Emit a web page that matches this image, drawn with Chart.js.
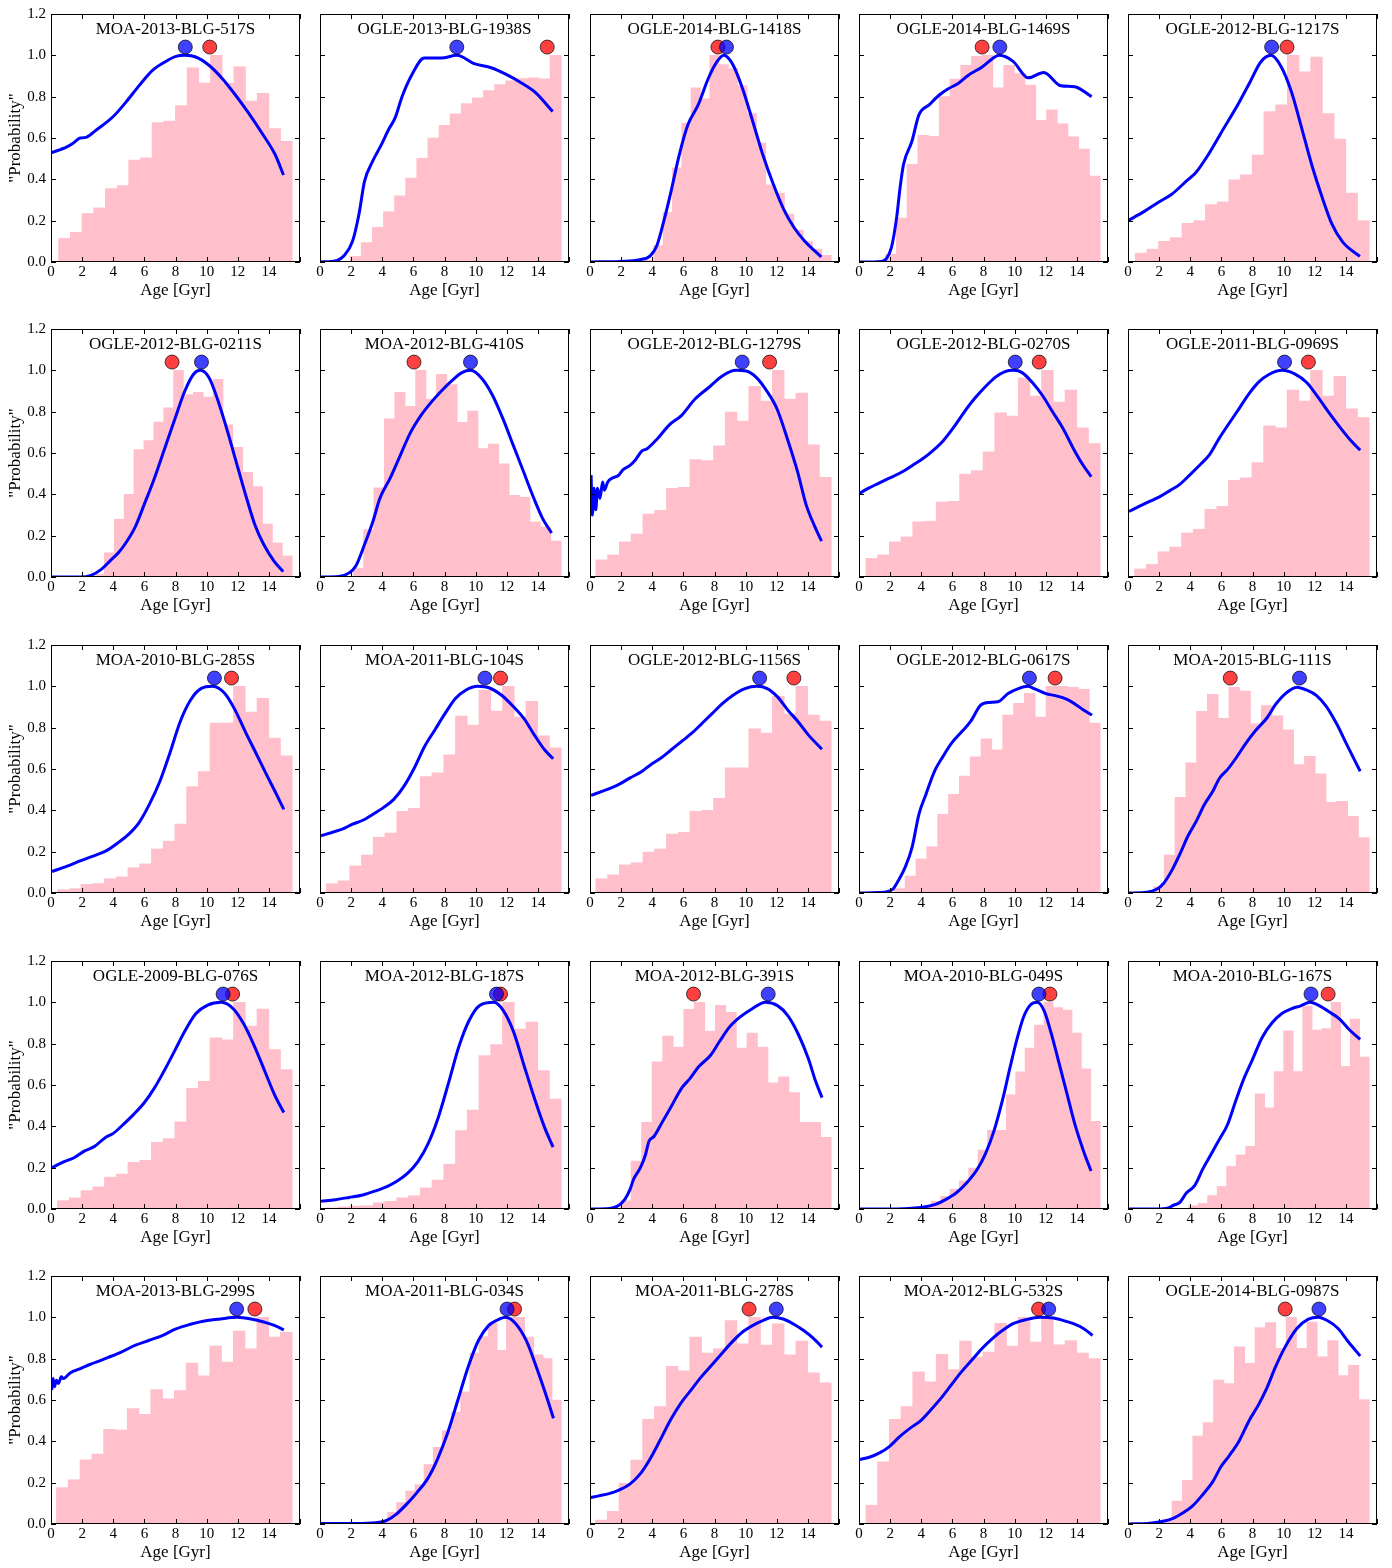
<!DOCTYPE html>
<html><head><meta charset="utf-8">
<script src="https://cdn.jsdelivr.net/npm/chart.js@4.4.1/dist/chart.umd.min.js"></script>
<style>
html,body{margin:0;padding:0;background:#fff;}
body{width:1392px;height:1568px;position:relative;overflow:hidden;}
.p{position:absolute;}
</style></head><body>
<script>
// ---------------- DATA ----------------
const names = [
 "MOA-2013-BLG-517S","OGLE-2013-BLG-1938S","OGLE-2014-BLG-1418S","OGLE-2014-BLG-1469S","OGLE-2012-BLG-1217S",
 "OGLE-2012-BLG-0211S","MOA-2012-BLG-410S","OGLE-2012-BLG-1279S","OGLE-2012-BLG-0270S","OGLE-2011-BLG-0969S",
 "MOA-2010-BLG-285S","MOA-2011-BLG-104S","OGLE-2012-BLG-1156S","OGLE-2012-BLG-0617S","MOA-2015-BLG-111S",
 "OGLE-2009-BLG-076S","MOA-2012-BLG-187S","MOA-2012-BLG-391S","MOA-2010-BLG-049S","MOA-2010-BLG-167S",
 "MOA-2013-BLG-299S","MOA-2011-BLG-034S","MOA-2011-BLG-278S","MOA-2012-BLG-532S","OGLE-2014-BLG-0987S"
];
// histogram lower edge (Gyr); all histograms end at binEnd
const binStart = [0.49,1.22,3.49,1.71,0.46, 2.79,2.13,0.37,0.44,0.42, 0.42,0.40,0.37,1.57,1.63, 0.42,0.40,1.96,3.43,3.28, 0.35,3.75,0.35,0.44,2.16];
const binEnd = 15.5;
const hist = [
 [0.114,0.144,0.235,0.262,0.355,0.37,0.493,0.504,0.675,0.682,0.757,0.939,0.866,1.0,0.864,0.944,0.779,0.816,0.646,0.584],
 [0,0.027,0.094,0.168,0.243,0.32,0.406,0.502,0.6,0.661,0.717,0.766,0.794,0.829,0.858,0.877,0.888,0.891,0.886,1.0],
 [0.01,0.08,0.24,0.456,0.672,0.843,0.789,1.0,0.955,0.936,0.853,0.718,0.576,0.373,0.333,0.232,0.155,0.099,0.062,0.032],
 [0.037,0.213,0.472,0.613,0.608,0.80,0.885,0.952,0.995,1.0,0.843,0.952,0.912,0.856,0.685,0.736,0.669,0.606,0.546,0.416],
 [0.043,0.062,0.10,0.118,0.187,0.2,0.278,0.291,0.397,0.422,0.517,0.728,0.76,1.0,0.92,0.992,0.718,0.595,0.334,0.2],
 [0.013,0.117,0.28,0.4,0.617,0.66,0.75,0.818,1.0,0.883,0.894,0.87,0.957,0.736,0.627,0.506,0.438,0.256,0.165,0.102],
 [0.042,0.229,0.432,0.765,0.893,0.826,1.0,0.861,0.981,0.931,0.749,0.803,0.621,0.643,0.547,0.395,0.386,0.266,0.242,0.174],
 [0.083,0.107,0.17,0.208,0.304,0.323,0.429,0.434,0.568,0.563,0.635,0.798,0.755,0.923,0.851,1.0,0.861,0.89,0.64,0.482],
 [0.09,0.107,0.17,0.194,0.267,0.27,0.362,0.366,0.498,0.515,0.606,0.794,0.779,0.963,0.875,1.0,0.846,0.904,0.722,0.645],
 [0.039,0.061,0.122,0.145,0.213,0.231,0.328,0.342,0.468,0.48,0.554,0.731,0.722,0.905,0.851,1.0,0.876,0.971,0.814,0.771],
 [0.016,0.021,0.042,0.046,0.069,0.078,0.122,0.141,0.213,0.251,0.333,0.515,0.587,0.822,0.822,1.0,0.875,0.942,0.75,0.664],
 [0.045,0.059,0.131,0.184,0.27,0.29,0.395,0.41,0.563,0.582,0.669,0.856,0.813,0.981,0.88,1.0,0.851,0.928,0.76,0.702],
 [0.069,0.088,0.136,0.146,0.198,0.213,0.285,0.294,0.395,0.40,0.458,0.606,0.606,0.794,0.774,0.952,0.866,1.0,0.861,0.832],
 [0,0.021,0.082,0.165,0.224,0.381,0.477,0.566,0.659,0.746,0.693,0.861,0.918,0.966,0.851,1.0,1.0,0.995,0.986,0.822],
 [0.03,0.184,0.463,0.63,0.879,0.961,0.845,0.995,0.977,0.818,0.907,0.857,0.789,0.621,0.661,0.577,0.439,0.443,0.371,0.268],
 [0.04,0.054,0.089,0.107,0.154,0.169,0.226,0.236,0.322,0.341,0.422,0.584,0.618,0.828,0.818,1.0,0.885,0.967,0.771,0.675],
 [0.005,0.01,0.014,0.016,0.03,0.037,0.054,0.064,0.102,0.14,0.217,0.379,0.479,0.742,0.795,1.0,0.871,0.904,0.67,0.532],
 [0.04,0.232,0.419,0.712,0.837,0.784,0.966,1.0,0.861,0.986,0.952,0.779,0.851,0.784,0.611,0.64,0.563,0.419,0.419,0.347],
 [0,0.008,0.037,0.061,0.096,0.136,0.198,0.285,0.381,0.381,0.552,0.664,0.779,0.89,1.0,0.975,0.962,0.851,0.678,0.424],
 [0,0.016,0.027,0.065,0.109,0.206,0.262,0.303,0.557,0.489,0.665,0.862,0.665,0.982,0.866,0.873,1.0,0.69,0.919,0.735],
 [0.176,0.214,0.31,0.338,0.458,0.454,0.558,0.531,0.65,0.606,0.645,0.779,0.717,0.861,0.784,0.933,0.848,1.0,0.904,0.928],
 [0.011,0.056,0.104,0.16,0.19,0.288,0.371,0.451,0.541,0.64,0.827,0.907,0.971,0.84,1.0,1.0,0.904,0.819,0.8,0.6],
 [0.019,0.061,0.197,0.309,0.507,0.568,0.763,0.741,0.904,0.827,0.848,0.984,0.872,1.0,0.866,0.968,0.818,0.885,0.731,0.683],
 [0.091,0.301,0.507,0.568,0.736,0.688,0.821,0.747,0.885,0.808,0.832,0.971,0.861,1.0,0.88,1.0,0.867,0.888,0.827,0.8],
 [0.021,0.111,0.211,0.425,0.491,0.696,0.679,0.857,0.777,0.95,0.975,0.85,1.0,0.85,0.977,0.809,0.888,0.718,0.768,0.602]
];
const curveAge = [
 [0,1.02,1.44,1.87,2.25,2.93,4.0,4.84,5.69,6.54,7.39,8.03,8.63,9.3,10.15,11.0,11.85,12.7,13.55,14.4,14.94],
 [0,1.1,1.54,2.09,2.5,2.86,3.4,3.96,4.4,4.84,5.27,5.93,6.7,7.8,8.8,9.9,11.0,11.9,13.0,13.85,14.95],
 [0,1.9,3.2,3.87,4.3,4.75,5.19,5.74,6.29,6.95,7.6,8.15,8.6,9.14,9.8,10.46,11.1,11.78,12.44,13.1,13.76,14.86],
 [0,1.43,1.76,2.09,2.42,2.64,2.86,3.4,3.85,4.5,5.16,5.71,6.37,7.03,7.91,8.57,9.0,9.9,10.88,11.87,12.97,13.85,14.95],
 [0,1.05,1.93,2.81,3.8,4.35,5.23,6.1,6.99,7.87,8.53,9.19,9.85,10.5,11.16,11.8,12.48,13.1,13.8,14.9],
 [0,1.9,2.57,3.23,3.78,4.33,4.88,5.43,5.98,6.64,7.3,7.96,8.6,9.16,9.6,10.15,10.7,11.36,12.02,12.57,13.1,13.67,14.33,14.92],
 [0,1.2,1.87,2.3,2.86,3.4,3.85,4.5,5.16,5.82,6.48,7.14,7.8,8.46,9.12,9.67,10.44,11.1,11.76,12.42,13.08,13.74,14.29,14.88],
 [0.07,0.15,0.26,0.37,0.48,0.64,0.81,0.92,1.14,1.47,1.8,2.13,2.57,2.9,3.34,3.67,4.33,5.1,5.87,6.75,7.63,8.5,9.38,10.04,10.7,11.36,12.02,12.68,13.34,13.89,14.44,14.88],
 [0.04,0.59,1.25,1.91,2.79,3.45,4.11,4.77,5.43,6.09,6.75,7.4,8.07,8.73,9.38,9.93,10.48,11.14,11.8,12.46,13.12,13.78,14.33,14.92],
 [0.06,0.78,1.42,2.05,2.69,3.33,3.96,4.6,5.23,5.87,6.5,7.14,7.78,8.41,9.05,9.9,10.74,11.48,12.22,12.97,13.7,14.39,14.92],
 [0.07,1.04,1.92,2.8,3.57,4.34,5.0,5.66,6.32,7.0,7.64,8.3,8.96,9.63,10.4,11.17,11.83,12.49,13.15,13.8,14.47,14.96],
 [0.07,0.77,1.43,2.09,2.75,3.41,4.07,4.74,5.4,6.06,6.72,7.38,8.04,8.7,9.36,10.13,10.9,11.67,12.44,13.1,13.77,14.43,14.98],
 [0.07,0.81,1.48,1.92,2.58,3.35,3.9,4.56,5.22,5.88,6.54,7.2,7.86,8.52,9.19,9.96,10.73,11.39,12.05,12.71,13.37,14.03,14.9],
 [0,1.21,1.87,2.2,2.53,2.97,3.41,3.85,4.3,4.85,5.4,5.95,6.61,7.16,7.82,8.37,8.92,9.58,10.24,10.86,11.34,12.0,12.67,13.33,13.99,14.43,14.98],
 [0,1.2,1.84,2.27,2.8,3.33,3.86,4.39,4.92,5.44,5.87,6.4,6.93,7.56,8.2,8.94,9.47,10.1,10.85,11.48,12.12,12.75,13.39,14.03,14.92],
 [0.07,0.81,1.48,2.14,2.8,3.46,4.0,4.67,5.33,5.99,6.65,7.31,7.97,8.63,9.3,10.07,10.95,11.72,12.38,13.04,13.7,14.36,14.96],
 [0.07,0.99,1.87,2.75,3.63,4.3,4.96,5.62,6.28,6.94,7.6,8.26,8.92,9.58,10.24,11.17,11.78,12.44,13.1,13.77,14.43,14.98],
 [0,1.26,1.81,2.25,2.58,2.8,3.24,3.57,3.79,4.12,4.67,5.22,5.88,6.43,6.98,7.75,8.3,8.96,9.63,10.4,11.28,12.05,12.71,13.37,14.03,14.47,14.91],
 [0,1.87,3.19,4.07,4.96,5.62,6.28,6.94,7.6,8.15,8.7,9.25,9.69,10.13,10.57,11.01,11.45,11.89,12.33,12.78,13.33,13.88,14.43,14.91],
 [0,1.84,2.58,2.9,3.33,3.75,4.28,4.81,5.34,5.87,6.4,6.93,7.46,7.99,8.62,9.26,9.89,10.53,11.06,11.7,12.33,12.97,13.6,14.24,14.92],
 [0.04,0.13,0.22,0.35,0.48,0.66,0.79,1.23,1.89,2.54,3.2,3.64,4.52,5.39,6.27,7.15,8.03,8.9,9.78,10.88,11.97,12.85,13.73,14.39,14.96],
 [0,2.72,3.82,4.25,4.91,5.57,6.23,6.89,7.54,8.2,8.86,9.52,10.18,10.83,11.4,11.93,12.59,13.25,13.9,14.56,15.0],
 [0.04,0.57,1.23,1.89,2.54,3.2,3.86,4.52,5.18,5.83,6.49,7.15,7.81,8.46,9.12,9.78,10.44,11.1,11.75,12.41,13.07,13.73,14.39,14.91],
 [0.04,0.66,1.32,1.97,2.63,3.29,3.95,4.61,5.26,5.92,6.58,7.24,7.89,8.55,9.21,9.87,10.75,11.62,12.5,13.16,13.82,14.47,15.0],
 [0,1.42,2.27,2.9,3.54,4.17,4.81,5.45,5.97,6.5,7.14,7.78,8.41,8.94,9.47,10.1,10.85,11.59,12.22,12.86,13.5,14.13,14.92]
];
const curveProb = [
 [0.528,0.557,0.576,0.6,0.603,0.64,0.704,0.776,0.856,0.928,0.971,0.995,1.0,0.992,0.952,0.888,0.808,0.72,0.624,0.52,0.421],
 [0,0.008,0.03,0.10,0.23,0.39,0.49,0.57,0.64,0.70,0.80,0.91,0.987,0.987,1.0,0.96,0.94,0.91,0.864,0.82,0.728],
 [0,0.003,0.011,0.03,0.08,0.2,0.336,0.52,0.664,0.76,0.888,0.968,1.0,0.96,0.84,0.68,0.52,0.376,0.256,0.168,0.104,0.024],
 [0,0.003,0.016,0.072,0.216,0.36,0.472,0.584,0.712,0.76,0.808,0.837,0.864,0.904,0.944,0.984,1.0,0.971,0.891,0.917,0.853,0.848,0.8],
 [0.2,0.245,0.288,0.328,0.395,0.432,0.528,0.64,0.752,0.875,0.968,1.0,0.944,0.824,0.648,0.472,0.312,0.184,0.096,0.027],
 [0,0,0.008,0.037,0.077,0.117,0.173,0.245,0.349,0.477,0.621,0.765,0.9,0.981,1.0,0.965,0.86,0.70,0.525,0.381,0.253,0.157,0.077,0.026],
 [0,0.003,0.02,0.053,0.157,0.269,0.381,0.477,0.589,0.70,0.781,0.845,0.90,0.949,0.989,1.0,0.957,0.877,0.765,0.637,0.509,0.381,0.285,0.213],
 [0.493,0.30,0.43,0.325,0.43,0.38,0.46,0.42,0.46,0.48,0.49,0.52,0.54,0.565,0.61,0.621,0.669,0.736,0.781,0.861,0.917,0.973,1.0,0.997,0.965,0.90,0.813,0.669,0.509,0.349,0.245,0.173],
 [0.405,0.429,0.453,0.477,0.509,0.541,0.573,0.613,0.661,0.725,0.797,0.861,0.917,0.965,0.994,1.0,0.989,0.941,0.877,0.797,0.717,0.621,0.549,0.485],
 [0.317,0.344,0.367,0.389,0.418,0.448,0.493,0.541,0.591,0.672,0.744,0.815,0.887,0.944,0.98,1.0,0.982,0.941,0.869,0.789,0.717,0.654,0.613],
 [0.104,0.13,0.157,0.181,0.205,0.245,0.285,0.341,0.429,0.541,0.677,0.829,0.933,0.989,1.0,0.965,0.885,0.78,0.68,0.58,0.48,0.405],
 [0.277,0.293,0.309,0.333,0.352,0.381,0.413,0.453,0.517,0.605,0.709,0.789,0.869,0.941,0.981,1.0,0.992,0.957,0.901,0.845,0.765,0.693,0.65],
 [0.472,0.493,0.512,0.528,0.557,0.589,0.621,0.653,0.693,0.733,0.773,0.821,0.869,0.917,0.957,0.989,1.0,0.989,0.949,0.885,0.829,0.765,0.696],
 [0,0.002,0.008,0.021,0.061,0.125,0.221,0.381,0.477,0.589,0.661,0.725,0.781,0.829,0.909,0.922,0.925,0.965,0.989,1.0,0.986,0.965,0.954,0.938,0.909,0.885,0.861],
 [0,0.004,0.018,0.045,0.107,0.188,0.277,0.348,0.429,0.491,0.554,0.598,0.652,0.723,0.786,0.848,0.911,0.964,0.996,0.982,0.955,0.902,0.821,0.723,0.589],
 [0.2,0.228,0.248,0.28,0.303,0.344,0.366,0.411,0.459,0.514,0.586,0.674,0.769,0.865,0.945,0.987,1.0,0.968,0.896,0.793,0.674,0.554,0.467],
 [0.037,0.045,0.056,0.068,0.089,0.108,0.135,0.172,0.228,0.315,0.443,0.61,0.785,0.912,0.984,1.0,0.96,0.857,0.697,0.538,0.395,0.299],
 [0,0.003,0.016,0.048,0.096,0.144,0.2,0.264,0.328,0.352,0.424,0.496,0.584,0.632,0.688,0.744,0.808,0.88,0.928,0.968,1.0,0.984,0.936,0.848,0.728,0.624,0.539],
 [0,0,0.003,0.008,0.024,0.048,0.08,0.128,0.192,0.272,0.384,0.536,0.68,0.816,0.928,0.987,1.0,0.96,0.856,0.728,0.568,0.408,0.28,0.184],
 [0,0,0.005,0.018,0.032,0.077,0.113,0.194,0.265,0.337,0.409,0.525,0.633,0.722,0.83,0.901,0.946,0.97,0.982,1.0,0.982,0.952,0.919,0.866,0.821],
 [0.648,0.704,0.664,0.696,0.68,0.712,0.704,0.731,0.752,0.773,0.792,0.805,0.832,0.864,0.888,0.912,0.944,0.965,0.981,0.992,1.0,0.992,0.976,0.96,0.939],
 [0.003,0.003,0.008,0.016,0.048,0.096,0.152,0.216,0.312,0.44,0.6,0.76,0.888,0.96,0.987,1.0,0.968,0.888,0.76,0.616,0.512],
 [0.128,0.136,0.147,0.165,0.192,0.24,0.315,0.408,0.504,0.584,0.648,0.712,0.768,0.824,0.88,0.928,0.96,0.984,1.0,0.992,0.968,0.936,0.896,0.856],
 [0.312,0.323,0.344,0.376,0.424,0.464,0.499,0.552,0.608,0.672,0.736,0.792,0.848,0.896,0.936,0.968,0.989,1.0,0.997,0.984,0.968,0.944,0.912],
 [0,0.004,0.013,0.027,0.054,0.089,0.143,0.205,0.277,0.33,0.402,0.5,0.58,0.661,0.759,0.857,0.946,0.991,1.0,0.982,0.946,0.884,0.813]
];
const blueAge = [8.63,8.79,8.77,9.05,9.23, 9.67,9.67,9.78,10.04,10.06, 10.5,10.6,10.9,10.95,11.02, 11.06,11.34,11.45,11.56,11.76, 11.93,12.02,11.97,12.19,12.27];
const redAge  = [10.2,14.6,8.22,7.91,10.22, 7.78,6.04,11.54,11.58,11.59, 11.6,11.6,13.1,12.6,6.57, 11.67,11.6,6.65,12.27,12.86, 13.1,12.5,10.22,11.54,10.1];
const dotLevel = 1.04;
const xMin = 0, xMax = 16, xStep = 2;
const yMin = 0, yMax = 1.2, yStep = 0.2;
const xTitle = 'Age [Gyr]';
const yTitle = '"Probability"';

// ---------------- LAYOUT / STYLE ----------------
const colLeft = [51, 320, 590, 859, 1128];
const rowTop = [12, 327, 643, 959, 1274];
const plotW = 251, plotH = 250;
const padTop = 12, padRight = 6, xAxisH = 39;
const FONT = '"Liberation Serif", "Times New Roman", serif';
Chart.defaults.font.family = FONT;
Chart.defaults.color = '#000';

const framePlugin = {
  id: 'frame',
  afterDraw(chart, args, opts) {
    const {ctx, chartArea: a, scales} = chart;
    const x = scales.x, y = scales.y;
    ctx.save();
    ctx.strokeStyle = '#000';
    ctx.lineWidth = 1;
    ctx.strokeRect(Math.round(a.left) + 0.5, Math.round(a.top) + 0.5,
                   Math.round(a.right - a.left) - 1, Math.round(a.bottom - a.top) - 1);
    const L = 5;
    ctx.beginPath();
    x.ticks.forEach(t => {
      const px = Math.round(x.getPixelForValue(t.value)) + 0.5;
      ctx.moveTo(px, a.bottom); ctx.lineTo(px, a.bottom - L);
      ctx.moveTo(px, a.top); ctx.lineTo(px, a.top + L);
    });
    y.ticks.forEach(t => {
      const py = Math.round(y.getPixelForValue(t.value)) + 0.5;
      ctx.moveTo(a.left, py); ctx.lineTo(a.left + L, py);
      ctx.moveTo(a.right, py); ctx.lineTo(a.right - L, py);
    });
    ctx.stroke();
    ctx.fillStyle = '#000';
    ctx.font = '17px ' + FONT;
    ctx.textAlign = 'center';
    ctx.textBaseline = 'middle';
    ctx.fillText(opts.text, (a.left + a.right) / 2, a.top + 16);
    ctx.restore();
  }
};

names.forEach((name, i) => {
  const col = i % 5, row = Math.floor(i / 5);
  const first = col === 0;
  const yW = first ? 51 : 8;
  const W = yW + plotW + padRight;
  const H = padTop + plotH + xAxisH;
  const div = document.createElement('div');
  div.className = 'p';
  div.style.left = (colLeft[col] - yW) + 'px';
  div.style.top = (rowTop[row] - padTop) + 'px';
  div.style.width = W + 'px';
  div.style.height = H + 'px';
  const cv = document.createElement('canvas');
  cv.width = W; cv.height = H;
  cv.style.width = W + 'px'; cv.style.height = H + 'px';
  div.appendChild(cv);
  document.body.appendChild(div);

  const n = hist[i].length;
  const w = (binEnd - binStart[i]) / n;
  const bars = hist[i].map((h, k) => ({x: binStart[i] + (k + 0.5) * w, y: h}));
  const m = Math.min(curveAge[i].length, curveProb[i].length);
  const line = [];
  for (let k = 0; k < m; k++) line.push({x: curveAge[i][k], y: curveProb[i][k]});

  new Chart(cv, {
    type: 'bar',
    data: {
      datasets: [
        {type: 'scatter', data: [{x: blueAge[i], y: dotLevel}], pointRadius: 7, pointHoverRadius: 7,
         pointBackgroundColor: 'rgba(0,0,255,0.75)', pointBorderColor: 'rgba(0,0,0,0.7)', pointBorderWidth: 1, order: 1},
        {type: 'scatter', data: [{x: redAge[i], y: dotLevel}], pointRadius: 7, pointHoverRadius: 7,
         pointBackgroundColor: 'rgba(255,0,0,0.75)', pointBorderColor: 'rgba(0,0,0,0.7)', pointBorderWidth: 1, order: 2},
        {type: 'line', data: line, borderColor: '#0000ff', borderWidth: 3, pointRadius: 0, fill: false,
         cubicInterpolationMode: 'monotone', order: 3},
        {type: 'bar', data: bars, backgroundColor: 'rgb(255,192,203)', borderWidth: 0,
         barPercentage: 1, categoryPercentage: 1, grouped: false, order: 4}
      ]
    },
    options: {
      responsive: false,
      animation: false,
      events: [],
      layout: {padding: {top: padTop, right: padRight, bottom: 0, left: 0}},
      plugins: {legend: {display: false}, tooltip: {enabled: false}, frame: {text: name}},
      scales: {
        x: {
          type: 'linear', min: xMin, max: xMax, offset: false,
          grid: {display: false, drawTicks: false}, border: {display: false},
          ticks: {stepSize: xStep, autoSkip: false, maxRotation: 0, padding: 1,
                  font: {size: 15, family: FONT}, color: '#000',
                  callback: v => (v >= xMax ? '' : String(v))},
          title: {display: true, text: xTitle, font: {size: 17, family: FONT}, color: '#000', padding: {top: 0, bottom: 0}},
          afterFit: s => { s.height = xAxisH; }
        },
        y: {
          type: 'linear', min: yMin, max: yMax,
          grid: {display: false, drawTicks: false}, border: {display: false},
          ticks: {stepSize: yStep, padding: 5, font: {size: 15, family: FONT}, color: '#000',
                  callback: v => (first ? Number(v).toFixed(1) : '')},
          title: {display: first, text: yTitle, font: {size: 17, family: FONT}, color: '#000', padding: {top: 5, bottom: 0}},
          afterFit: s => { s.width = yW; }
        }
      }
    },
    plugins: [framePlugin]
  });
});
</script>
</body></html>
